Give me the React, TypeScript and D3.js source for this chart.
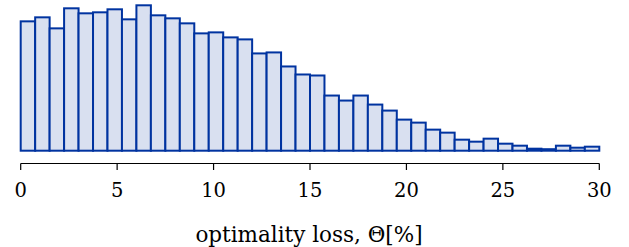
import React from "react";
import { scaleLinear, range } from "d3";

// histogram of optimality loss, 40 bins of 0.75 % each from 0 to 30
const binWidth = 0.75;
const counts = [
  129, 133, 122, 142, 137, 138, 141, 131, 145, 135,
  132, 127, 117, 118, 113, 111, 97, 98, 84, 76,
  75, 55, 50, 55, 46, 40, 31, 28, 21, 18,
  11, 9, 12, 7, 5, 2, 1.5, 5, 3, 4,
];
const xTicks = [0, 5, 10, 15, 20, 25, 30];
const xLabel = "optimality loss, Θ[%]";

const width = 629;
const height = 247;
const font = "DejaVu Serif";

function App() {
  const x = scaleLinear().domain([0, 30]).range([20.7, 599.3]);
  const y = scaleLinear().domain([0, 145]).range([150.7, 5.3]);
  const axisY = 163.5;

  return (
    <svg width={width} height={height} style={{ position: "absolute", left: 0, top: 0 }}>
      <g>
        {range(counts.length).map(i => (
          <rect
            key={i}
            x={x(i * binWidth)}
            y={y(counts[i])}
            width={x((i + 1) * binWidth) - x(i * binWidth)}
            height={y(0) - y(counts[i])}
            fill="#d9e0f0"
            stroke="#0033a0"
            strokeWidth={2}
          />
        ))}
      </g>
      <line x1={x(0)} x2={x(30)} y1={axisY} y2={axisY} stroke="#000" strokeWidth={1.2} />
      {xTicks.map(t => (
        <g key={t} transform={`translate(${x(t)},0)`}>
          <line y1={axisY} y2={axisY + 6.5} stroke="#000" strokeWidth={1.2} />
          <text y={197} textAnchor="middle" fontFamily={font} fontSize="19.5px" fill="#000">
            {t}
          </text>
        </g>
      ))}
      <text x={309} y={241.5} textAnchor="middle" fontFamily={font} fontSize="21.5px" fill="#000">
        {xLabel}
      </text>
    </svg>
  );
}

export default App;
